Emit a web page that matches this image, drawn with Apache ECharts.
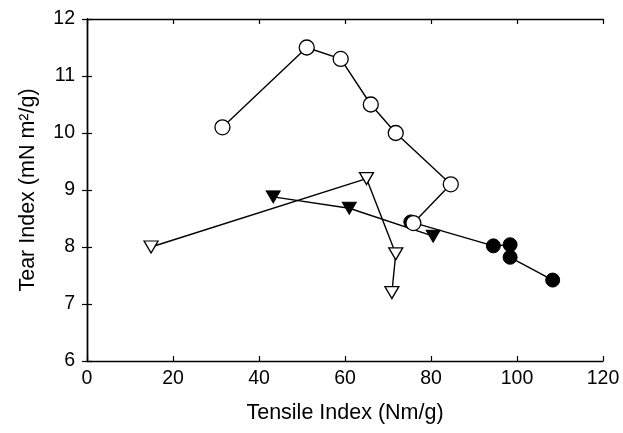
<!DOCTYPE html>
<html>
<head>
<meta charset="utf-8">
<script src="https://cdn.jsdelivr.net/npm/echarts@6/dist/echarts.min.js"></script>
<style>html,body{margin:0;padding:0;background:#fff}#c{width:623px;height:433px}</style>
</head>
<body>
<div id="c"></div>
<script>
// Open circles
const openCircleX = [31.5, 51.1, 59.0, 66.0, 71.8, 84.6, 75.9];
const openCircleY = [10.1, 11.5, 11.3, 10.5, 10.0, 9.1, 8.42];
// Open (down) triangles
const openTriX = [14.9, 65.0, 71.8, 70.9];
const openTriY = [8.0, 9.2, 7.88, 7.2];
// Filled (down) triangles
const fillTriX = [43.3, 61.0, 80.5];
const fillTriY = [8.88, 8.68, 8.19];
// Filled circles
const fillCircleX = [75.3, 94.5, 98.4, 98.4, 108.3];
const fillCircleY = [8.44, 8.02, 8.04, 7.82, 7.42];

const xTicks = [0, 20, 40, 60, 80, 100, 120];
const yTicks = [6, 7, 8, 9, 10, 11, 12];

function pts(xs, ys) { return xs.map((x, i) => [x, ys[i]]); }

const font = 'Liberation Sans, Arial, Helvetica, sans-serif';
const lineStyle = { color: '#000', width: 1.4 };

const chart = echarts.init(document.getElementById('c'), null, { renderer: 'canvas' });
const axisCommon = {
  axisLine: { show: true, lineStyle: { color: '#000', width: 1.4 } },
  axisTick: { show: true, inside: true, length: 5, lineStyle: { color: '#000', width: 1.2 } },
  splitLine: { show: false }
};
chart.setOption({
  animation: false,
  backgroundColor: '#fff',
  grid: { left: 87, top: 19, right: 20, bottom: 72, containLabel: false },
  xAxis: [
    Object.assign({
      type: 'value', min: xTicks[0], max: xTicks[xTicks.length - 1], interval: 20,
      name: 'Tensile Index (Nm/g)', nameLocation: 'middle', nameGap: 41,
      nameTextStyle: { fontFamily: font, fontSize: 21.5, color: '#000' },
      axisLabel: { fontFamily: font, fontSize: 19.5, color: '#000', margin: 8 }
    }, axisCommon),
    Object.assign({
      type: 'value', position: 'top', min: xTicks[0], max: xTicks[xTicks.length - 1], interval: 20,
      axisLabel: { show: false }
    }, axisCommon)
  ],
  yAxis: [
    Object.assign({
      type: 'value', min: yTicks[0], max: yTicks[yTicks.length - 1], interval: 1,
      name: 'Tear Index (mN m²/g)', nameLocation: 'middle', nameGap: 48, nameRotate: 90,
      nameTextStyle: { fontFamily: font, fontSize: 21.5, color: '#000' },
      axisLabel: { fontFamily: font, fontSize: 19.5, color: '#000', margin: 12 }
    }, axisCommon),
    Object.assign({
      type: 'value', position: 'right', min: yTicks[0], max: yTicks[yTicks.length - 1], interval: 1,
      axisLabel: { show: false }
    }, axisCommon)
  ],
  series: [
    {
      type: 'line', data: pts(fillCircleX, fillCircleY), symbol: 'circle', symbolSize: 14,
      itemStyle: { color: '#000', borderColor: '#000' }, lineStyle: lineStyle, z: 2
    },
    {
      type: 'line', data: pts(fillTriX, fillTriY), symbol: 'triangle', symbolRotate: 180, symbolSize: [14, 12],
      itemStyle: { color: '#000', borderColor: '#000' }, lineStyle: lineStyle, z: 3
    },
    {
      type: 'line', data: pts(openTriX, openTriY), symbol: 'triangle', symbolRotate: 180, symbolSize: [14, 12],
      itemStyle: { color: '#fff', borderColor: '#000', borderWidth: 1.3 }, lineStyle: lineStyle, z: 4
    },
    {
      type: 'line', data: pts(openCircleX, openCircleY), symbol: 'circle', symbolSize: 15,
      itemStyle: { color: '#fff', borderColor: '#000', borderWidth: 1.3 }, lineStyle: lineStyle, z: 5
    }
  ]
});
</script>
</body>
</html>
